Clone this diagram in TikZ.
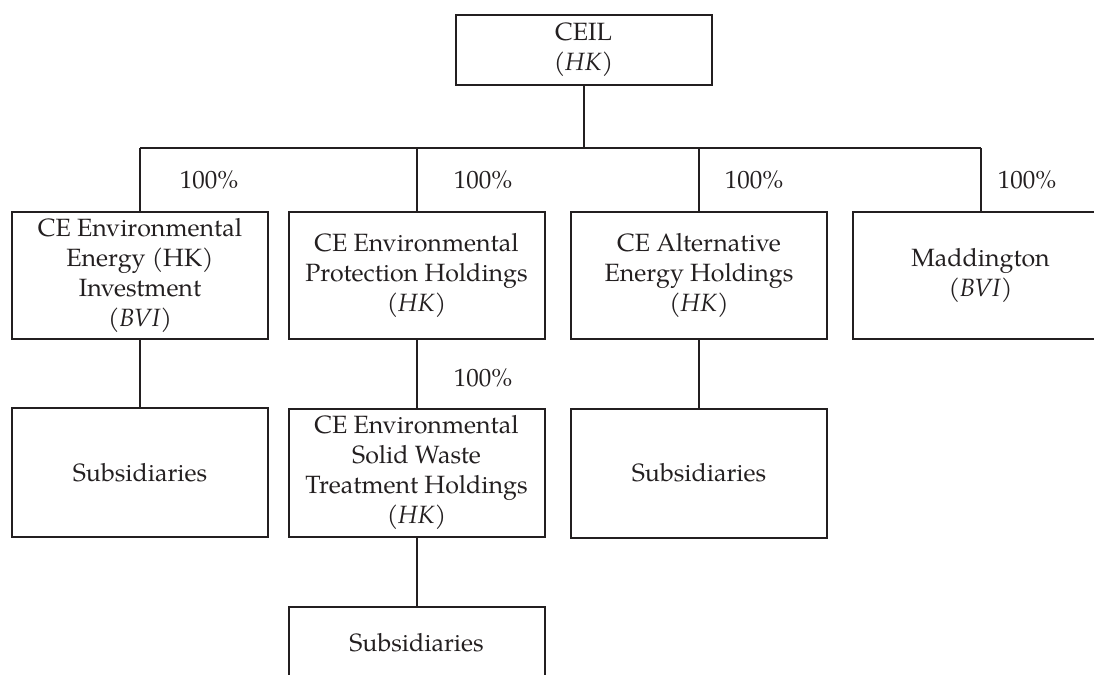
\documentclass[tikz,border=0pt]{standalone}
\usepackage{fontspec}
\setmainfont{TeX Gyre Pagella}
\definecolor{ink}{HTML}{231F20}
\begin{document}
\begin{tikzpicture}[x=0.5pt,y=-0.5pt,
  every node/.style={text=ink,font=\fontsize{12.5}{15}\selectfont},
  box/.style={draw=ink,line width=1pt,align=center,inner sep=0pt,minimum width=128pt},
  pct/.style={inner sep=0pt},
  link/.style={draw=ink,line width=1pt}]
\useasboundingbox (0,0) rectangle (1094,675);
\clip (0,0) rectangle (1094,675);
\node[box,minimum height=35pt] (ceil) at (583.5,50) {CEIL\\(\textit{HK})};
\node[box,minimum height=63.5pt] (b1) at (140,275) {CE Environmental\\Energy (HK)\\Investment\\(\textit{BVI})};
\node[box,minimum height=63.5pt] (b2) at (416.5,275) {CE Environmental\\Protection Holdings\\(\textit{HK})};
\node[box,minimum height=63.5pt] (b3) at (699,275) {CE Alternative\\Energy Holdings\\(\textit{HK})};
\node[box,minimum height=63.5pt] (b4) at (980.5,275) {Maddington\\(\textit{BVI})};
\node[box,minimum height=64.5pt] (s1) at (140,472.5) {Subsidiaries};
\node[box,minimum height=64pt] (sw) at (416.5,472.5) {CE Environmental\\Solid Waste\\Treatment Holdings\\(\textit{HK})};
\node[box,minimum height=64.5pt] (s3) at (699,473) {Subsidiaries};
\node[box,minimum height=36pt] (s2) at (416.5,643) {Subsidiaries};
\coordinate (bus) at (583.5,148);
\draw[link] (ceil.south) -- (bus);
\draw[link] (b1.north |- bus) -- (b4.north |- bus);
\foreach \b in {b1,b2,b3,b4} \draw[link] (\b.north) -- (\b.north |- bus);
\draw[link] (b1.south) -- (s1.north);
\draw[link] (b2.south) -- (sw.north);
\draw[link] (b3.south) -- (s3.north);
\draw[link] (sw.south) -- (s2.north);
\node[pct] (l1) at (209,180) {100\%};
\node[pct] (l2) at (483,180) {100\%};
\node[pct] (l3) at (754,180) {100\%};
\node[pct] (l4) at (1027,180) {100\%};
\node[pct] (l5) at (483,378) {100\%};
\end{tikzpicture}
\end{document}
